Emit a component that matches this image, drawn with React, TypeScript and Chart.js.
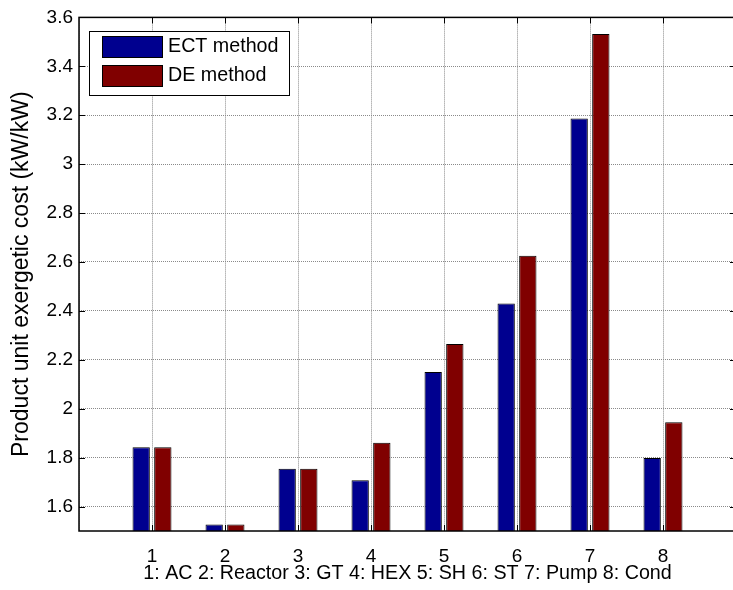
import React, { useEffect, useRef } from 'react';
import { Chart, registerables } from 'chart.js';

Chart.register(...registerables);

const categories = ['1', '2', '3', '4', '5', '6', '7', '8'];
const ectValues = [1.842, 1.527, 1.755, 1.707, 2.15, 2.43, 3.187, 1.798];
const deValues = [1.842, 1.527, 1.755, 1.861, 2.265, 2.625, 3.532, 1.945];
const seriesLabels = ['ECT method', 'DE method'];
const seriesColors = ['#00008F', '#800000'];
const yTickValues = [1.6, 1.8, 2.0, 2.2, 2.4, 2.6, 2.8, 3.0, 3.2, 3.4, 3.6];
const yTickLabels = ['1.6', '1.8', '2', '2.2', '2.4', '2.6', '2.8', '3', '3.2', '3.4', '3.6'];
const yMin = 1.5;
const yMax = 3.6;
const xTitle = '1: AC 2: Reactor 3: GT 4: HEX 5: SH 6: ST 7: Pump 8: Cond';
const yTitle = 'Product unit exergetic cost (kW/kW)';

const FONT = '"Liberation Sans", Arial, Helvetica, sans-serif';

const framePlugin = {
  id: 'matlabFrame',
  afterDatasetsDraw(chart: any) {
    const { ctx, chartArea: a, scales } = chart;
    const xs = scales.x;
    const ys = scales.y;
    ctx.save();
    ctx.strokeStyle = '#000';
    ctx.lineWidth = 1;
    ctx.beginPath();
    ys.ticks.forEach((t: any) => {
      const py = Math.round(ys.getPixelForValue(t.value)) + 0.5;
      ctx.moveTo(a.left, py);
      ctx.lineTo(a.left + 6, py);
      ctx.moveTo(a.right, py);
      ctx.lineTo(a.right - 6, py);
    });
    categories.forEach((_c, i) => {
      const px = Math.round(xs.getPixelForValue(i + 1)) + 0.5;
      ctx.moveTo(px, a.bottom);
      ctx.lineTo(px, a.bottom - 6);
      ctx.moveTo(px, a.top);
      ctx.lineTo(px, a.top + 6);
    });
    ctx.stroke();
    ctx.lineWidth = 1.5;
    ctx.strokeRect(a.left, a.top, a.right - a.left, a.bottom - a.top);
    ctx.restore();
  },
};

const legendPlugin = {
  id: 'boxLegend',
  afterDraw(chart: any) {
    const { ctx, chartArea } = chart;
    const x0 = Math.round(chartArea.left) + 10;
    const y0 = Math.round(chartArea.top) + 14;
    const w = 200;
    const h = 64;
    ctx.save();
    ctx.fillStyle = '#fff';
    ctx.fillRect(x0, y0, w, h);
    ctx.strokeStyle = '#000';
    ctx.lineWidth = 1;
    ctx.strokeRect(x0 + 0.5, y0 + 0.5, w, h);
    chart.data.datasets.forEach((ds: any, i: number) => {
      const sy = y0 + 5 + i * 29;
      ctx.fillStyle = ds.backgroundColor;
      ctx.fillRect(x0 + 13, sy, 61, 22);
      ctx.strokeStyle = '#000';
      ctx.strokeRect(x0 + 13.5, sy + 0.5, 60, 21);
      ctx.fillStyle = '#000';
      ctx.font = '19.7px ' + FONT;
      ctx.textBaseline = 'middle';
      ctx.textAlign = 'left';
      ctx.fillText(ds.label, x0 + 79, sy + 11);
    });
    ctx.restore();
  },
};

export default function App() {
  const canvasRef = useRef<HTMLCanvasElement | null>(null);

  useEffect(() => {
    const canvas = canvasRef.current;
    if (!canvas) return;
    const labels = ['', ...categories, ''];
    const chart = new Chart(canvas, {
      type: 'bar',
      data: {
        labels,
        datasets: [
          {
            label: seriesLabels[0],
            data: [null, ...ectValues, null],
            backgroundColor: seriesColors[0],
            borderColor: '#000',
            borderWidth: 1,
            categoryPercentage: 0.593,
            barPercentage: 0.8,
          },
          {
            label: seriesLabels[1],
            data: [null, ...deValues, null],
            backgroundColor: seriesColors[1],
            borderColor: '#000',
            borderWidth: 1,
            categoryPercentage: 0.593,
            barPercentage: 0.8,
          },
        ],
      } as any,
      options: {
        responsive: false,
        animation: false,
        devicePixelRatio: 1,
        layout: { padding: { top: 15, right: 5, left: 0, bottom: 0 } },
        plugins: {
          legend: { display: false },
          tooltip: { enabled: false },
        },
        scales: {
          x: {
            type: 'category',
            offset: false,
            grid: {
              offset: false,
              color: '#8a8a8a',
              lineWidth: 1,
              drawTicks: false,
            },
            border: { display: false, dash: [1, 1] },
            ticks: {
              autoSkip: false,
              maxRotation: 0,
              padding: 14,
              color: '#000',
              font: { family: FONT, size: 19 },
            },
            title: {
              display: true,
              text: xTitle,
              color: '#000',
              font: { family: FONT, size: 19.7 },
              padding: { top: 0, bottom: 5 },
            },
            afterFit: (scale: any) => {
              scale.height = 59;
            },
          },
          y: {
            type: 'linear',
            min: yMin,
            max: yMax,
            grid: {
              color: '#8a8a8a',
              lineWidth: 1,
              drawTicks: false,
            },
            border: { display: false, dash: [1, 1] },
            afterBuildTicks: (scale: any) => {
              scale.ticks = yTickValues.map((v) => ({ value: v }));
            },
            ticks: {
              padding: 6,
              color: '#000',
              font: { family: FONT, size: 19 },
              callback: (value: any) => {
                const idx = yTickValues.findIndex((v) => Math.abs(v - Number(value)) < 1e-6);
                return idx >= 0 ? yTickLabels[idx] : '';
              },
            },
            title: {
              display: true,
              text: yTitle,
              color: '#000',
              font: { family: FONT, size: 23 },
              padding: { top: 8, bottom: 0 },
            },
            afterFit: (scale: any) => {
              scale.width = 79;
            },
          },
        },
      } as any,
      plugins: [framePlugin, legendPlugin],
    });
    return () => {
      chart.destroy();
    };
  }, []);

  return (
    <div
      style={{
        position: 'fixed',
        left: 0,
        top: 0,
        width: 733,
        height: 590,
        overflow: 'hidden',
        background: '#fff',
      }}
    >
      <canvas
        ref={canvasRef}
        width={750}
        height={590}
        style={{ width: 750, height: 590, display: 'block' }}
      />
    </div>
  );
}
